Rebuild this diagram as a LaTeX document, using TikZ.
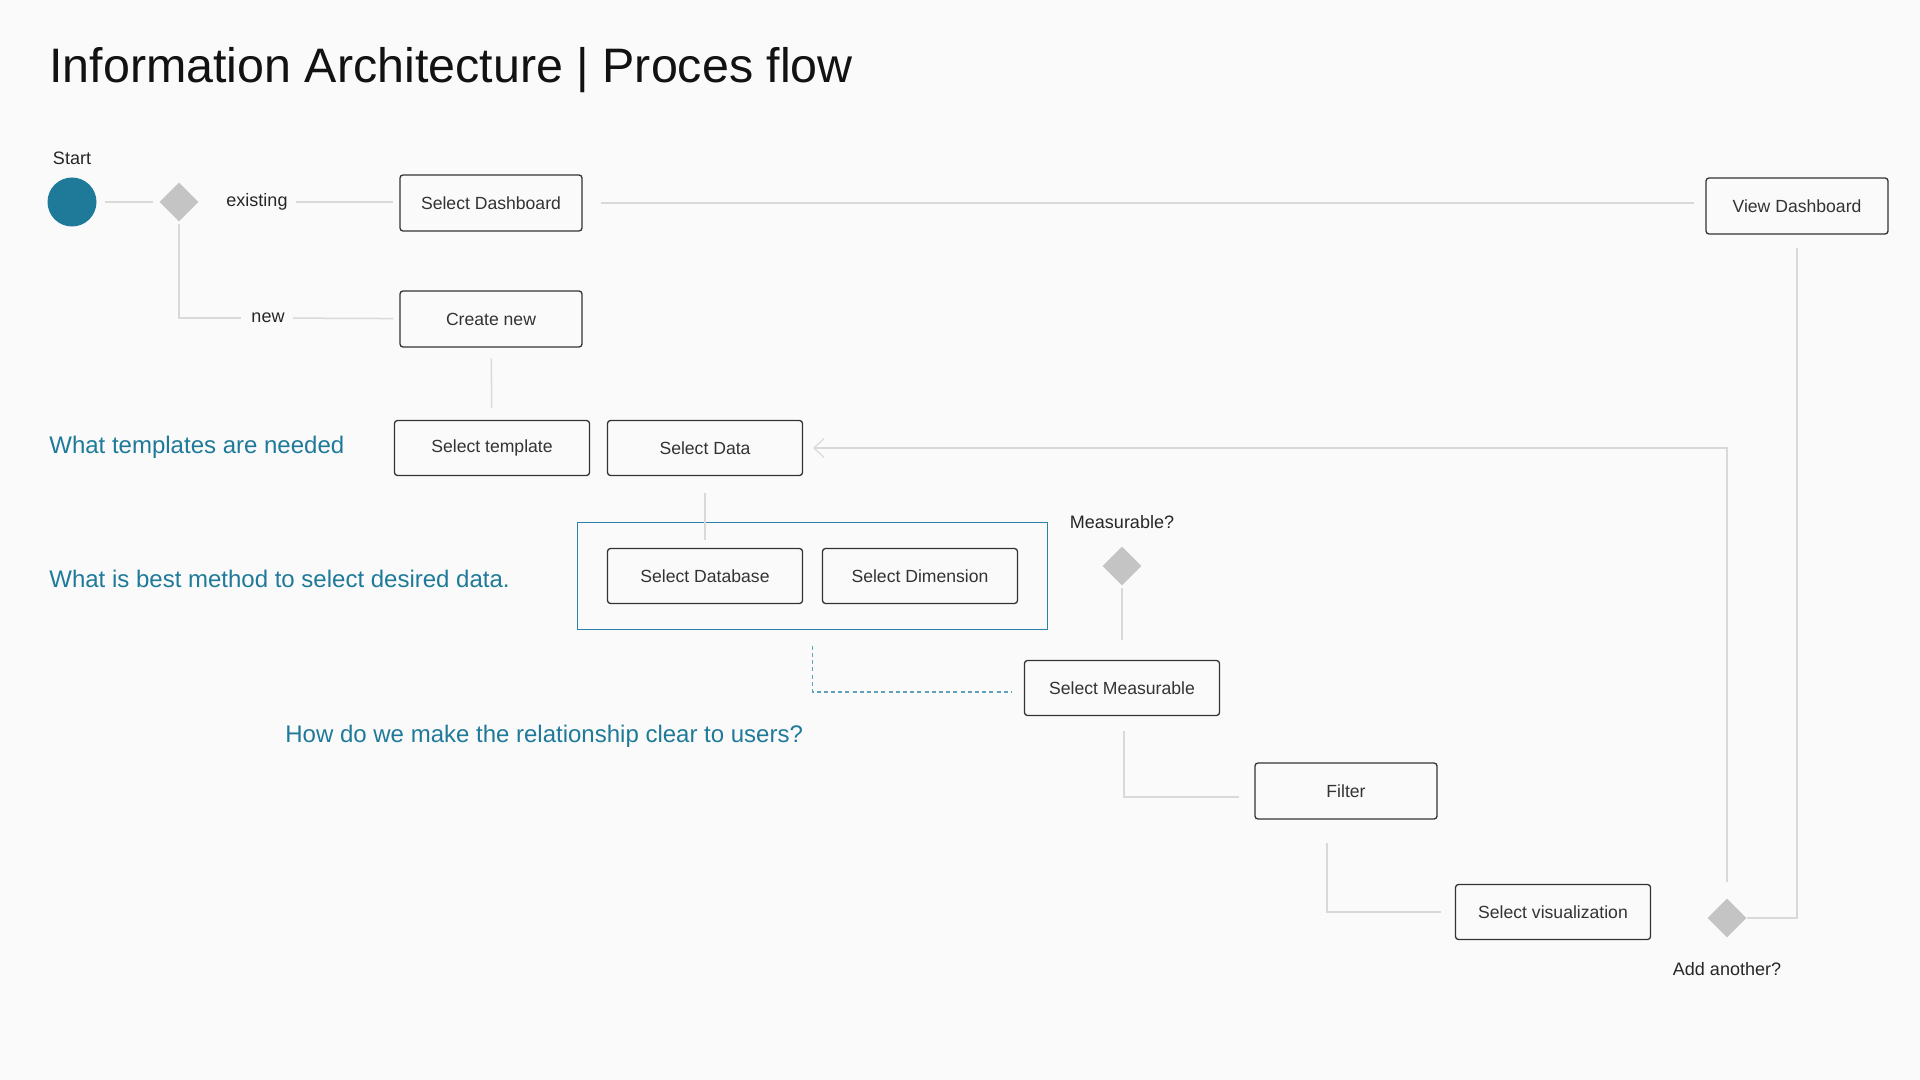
\documentclass[tikz,border=0pt]{standalone}
\usepackage{fontspec}
\setmainfont{Liberation Sans}
\usetikzlibrary{arrows.meta,shapes.geometric,fit}
\definecolor{bgcol}{HTML}{FAFAFA}
\definecolor{iablue}{HTML}{1F7A9A}
\definecolor{grpblue}{HTML}{2B82A8}
\definecolor{linegray}{HTML}{D9D9D9}
\definecolor{diagray}{HTML}{C4C4C4}
\definecolor{boxline}{HTML}{333333}

\begin{document}
\begin{tikzpicture}[x=0.5pt, y=-0.5pt,
    box/.style = {draw=boxline, rounded corners=1.5pt, line width=0.65pt, minimum width=91pt, minimum height=28pt, text=boxline, font=\fontsize{8.8}{10}\selectfont},
    widebox/.style = {box, minimum width=97.5pt, minimum height=27.5pt},
    decision/.style = {diamond, fill=diagray, minimum size=19.5pt, inner sep=0pt},
    tag/.style = {inner sep=0pt, text=black!85, font=\fontsize{9}{10}\selectfont},
    question/.style = {anchor=west, inner sep=0pt, text=iablue, font=\fontsize{12}{14}\selectfont},
    link/.style = {draw=linegray, line width=0.75pt}]
    \fill[bgcol] (0,0) rectangle (1920,1080);
    \useasboundingbox (0,0) rectangle (1920,1080);

    % title
    \node[anchor=base west, inner sep=0pt, text=black!93, font=\fontsize{24.2}{28}\selectfont] (title) at (49,83) {Information Architecture | Proces flow};

    % start and first choice
    \node[circle, fill=iablue, minimum size=24.5pt, inner sep=0pt] (start) at (72,202) {};
    \node[tag] (startlbl) at (72,158) {Start};
    \node[decision] (choose) at (179,202) {};
    \node[tag] (existing) at (257,202) {existing};
    \node[tag] (new) at (268,318) {new};
    \node[box] (seldash) at (491,203) {Select Dashboard};
    \node[box] (create) at (491,319) {Create new};
    \node[box] (viewdash) at (1797,206) {View Dashboard};

    % data selection
    \node[widebox] (seltemp) at (492,448) {Select template};
    \node[widebox] (seldata) at (705,448) {Select Data};
    \node[widebox] (seldb) at (705,576) {Select Database};
    \node[widebox] (seldim) at (920,576) {Select Dimension};
    \node[draw=grpblue, line width=0.6pt, inner xsep=14.5pt, inner ysep=12.5pt, fit=(seldb)(seldim)] (grp) {};

    \node[decision] (measq) at (1122,566) {};
    \node[tag] (measlbl) at (1122,522) {Measurable?};
    \node[widebox] (selmeas) at (1122,688) {Select Measurable};
    \node[box] (filter) at (1346,791) {Filter};
    \node[widebox] (selvis) at (1553,912) {Select visualization};
    \node[decision] (addq) at (1727,918) {};
    \node[tag] (addlbl) at (1727,969) {Add another?};

    % questions
    \node[question] (q1) at (49,447) {What templates are needed};
    \node[question] (q2) at (49,579) {What is best method to select desired data.};
    \node[question] (q3) at (285,736) {How do we make the relationship clear to users?};

    % connectors
    \draw[link, shorten <=4pt, shorten >=3pt] (start) -- (choose);
    \draw[link, shorten <=4pt, shorten >=3pt] (existing.east) -- (existing.east -| seldash.west);
    \draw[link, shorten <=1pt, shorten >=5pt] (choose) |- (new);
    \draw[link, shorten <=4pt, shorten >=3pt] (new) -- (create);
    \draw[link, shorten <=9pt, shorten >=5.5pt] (seldash.east) -- (seldash.east -| viewdash.west);
    \draw[link, shorten <=5.5pt, shorten >=6pt] (create) -- (seltemp);
    \draw[link, shorten <=8.5pt, shorten >=4pt] (seldata) -- (seldb);
    \draw[draw=grpblue!75, line width=0.6pt, dash pattern=on 2pt off 1.6pt, shorten <=8pt, shorten >=6pt] (grp.south) |- ([yshift=-2pt]selmeas.west);
    \draw[link, shorten <=1pt, shorten >=10pt] (measq) -- (selmeas);
    \draw[link, shorten <=7.5pt, shorten >=7.5pt] ([xshift=1pt]selmeas.south) |- ([yshift=-3pt]filter.west);
    \draw[link, shorten <=11.5pt, shorten >=7pt] ([xshift=-9.5pt]filter.south) |- (selvis.west);
    \draw[link, shorten >=6.5pt] (addq) -| (viewdash);
    \draw[link, shorten <=8pt, shorten >=5pt, -{Straight Barb[length=5pt, width=9.5pt, line width=0.6pt]}] (addq) |- (seldata);
\end{tikzpicture}
\end{document}
